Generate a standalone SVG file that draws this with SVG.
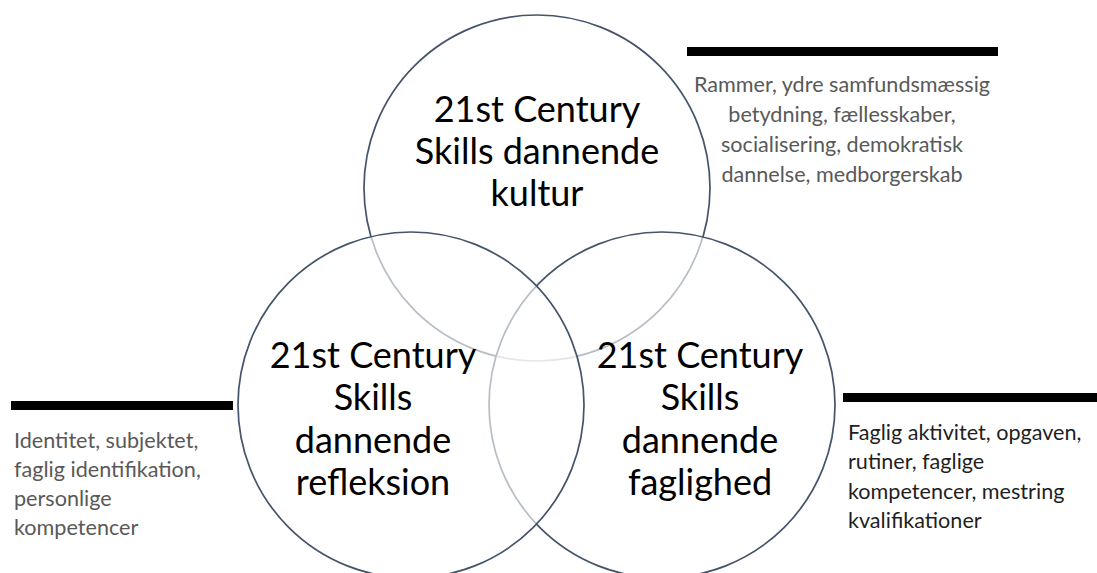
<svg xmlns="http://www.w3.org/2000/svg" width="1097" height="573" viewBox="0 0 1097 573">
  <style>
    .circ { fill: #ffffff; fill-opacity: 0.62; stroke: #44546A; stroke-width: 1.7; }
    .main { font-family: Lato, "Liberation Sans", sans-serif; font-size: 36px; fill: #000000; text-anchor: middle; }
    .side { font-family: Lato, "Liberation Sans", sans-serif; font-size: 21.6px; fill: #595959; }
    .dark { fill: #1f1f1f; }
    .bar { fill: #000000; }
  </style>
  <rect x="0" y="0" width="1097" height="573" fill="#ffffff"/>
  <g id="circle-kultur">
    <circle class="circ" cx="537" cy="188" r="173"/>
  </g>
  <g id="circle-faglighed">
    <circle class="circ" cx="662" cy="405" r="173"/>
  </g>
  <g id="circle-refleksion">
    <circle class="circ" cx="411" cy="405" r="173"/>
  </g>
  <g id="label-kultur">
    <text class="main" x="537" y="122">21st Century</text>
    <text class="main" x="537" y="164">Skills dannende</text>
    <text class="main" x="537" y="206">kultur</text>
  </g>
  <g id="label-refleksion">
    <text class="main" x="373" y="368">21st Century</text>
    <text class="main" x="373" y="410">Skills</text>
    <text class="main" x="373" y="453">dannende</text>
    <text class="main" x="373" y="495">refleksion</text>
  </g>
  <g id="label-faglighed">
    <text class="main" x="700" y="368">21st Century</text>
    <text class="main" x="700" y="410">Skills</text>
    <text class="main" x="700" y="453">dannende</text>
    <text class="main" x="700" y="495">faglighed</text>
  </g>
  <g id="note-kultur">
    <rect class="bar" x="687" y="47" width="311" height="9"/>
    <text class="side" x="842" y="92" text-anchor="middle">Rammer, ydre samfundsmæssig</text>
    <text class="side" x="842" y="122" text-anchor="middle">betydning, fællesskaber,</text>
    <text class="side" x="842" y="152" text-anchor="middle">socialisering, demokratisk</text>
    <text class="side" x="842" y="182" text-anchor="middle">dannelse, medborgerskab</text>
  </g>
  <g id="note-refleksion">
    <rect class="bar" x="11" y="401" width="222" height="9"/>
    <text class="side" x="14" y="448">Identitet, subjektet,</text>
    <text class="side" x="14" y="477">faglig identifikation,</text>
    <text class="side" x="14" y="506">personlige</text>
    <text class="side" x="14" y="535">kompetencer</text>
  </g>
  <g id="note-faglighed">
    <rect class="bar" x="843" y="393" width="254" height="9"/>
    <text class="side dark" x="848" y="440">Faglig aktivitet, opgaven,</text>
    <text class="side dark" x="848" y="469">rutiner, faglige</text>
    <text class="side dark" x="848" y="499">kompetencer, mestring</text>
    <text class="side dark" x="848" y="528">kvalifikationer</text>
  </g>
  <g id="connectors"></g>
</svg>
